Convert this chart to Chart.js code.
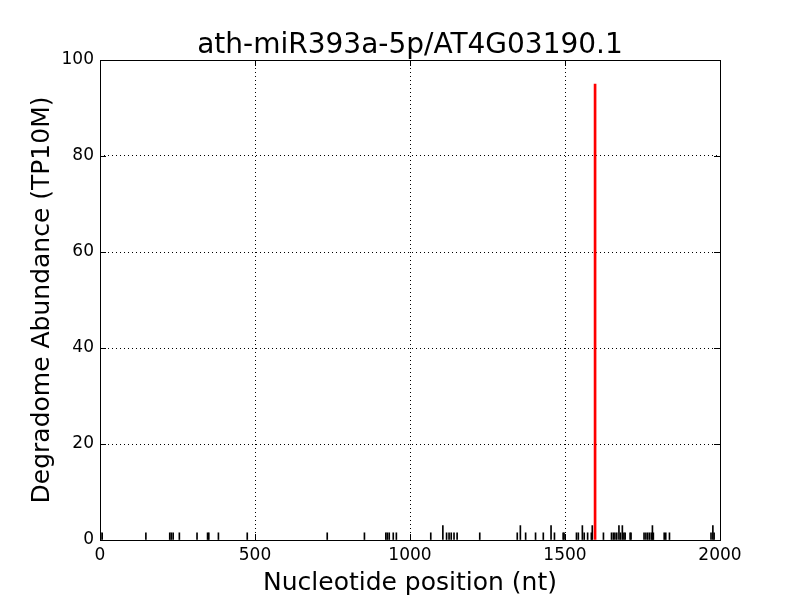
<!DOCTYPE html>
<html>
<head>
<meta charset="utf-8">
<script src="https://cdn.jsdelivr.net/npm/chart.js@4"></script>
<style>
  html, body { margin: 0; padding: 0; background: #fff; }
  #wrap { width: 800px; height: 600px; }
</style>
</head>
<body>
<div id="wrap"><canvas id="chartDegradome" width="800" height="600"></canvas></div>
<script>
const tituloGrafico = 'ath-miR393a-5p/AT4G03190.1';
const rotuloX = 'Nucleotide position (nt)';
const rotuloY = 'Degradome Abundance (TP10M)';

// degradome tags (black)
const posicoes = [2, 7, 148, 225, 230, 236, 256, 313, 347, 351, 382, 475, 733, 853, 922, 927, 933, 946, 956,
  1067, 1106, 1118, 1126, 1133, 1142, 1152, 1225, 1346, 1356, 1373, 1405, 1430, 1455, 1466, 1494, 1497,
  1537, 1543, 1556, 1562, 1573, 1585, 1588, 1624, 1650, 1656, 1661, 1667, 1674, 1679, 1685, 1690, 1694,
  1710, 1713, 1755, 1761, 1767, 1773, 1779, 1782, 1785, 1820, 1825, 1837, 1971, 1977, 1981];
const abundancias = [1.5, 1.5, 1.5, 1.5, 1.5, 1.5, 1.5, 1.5, 1.5, 1.5, 1.5, 1.5, 1.5, 1.5, 1.5, 1.5, 1.5, 1.5, 1.5,
  1.5, 3, 1.5, 1.5, 1.5, 1.5, 1.5, 1.5, 1.5, 3, 1.5, 1.5, 1.5, 3, 1.5, 1.5, 1.5,
  1.5, 1.5, 3, 1.5, 1.5, 1.5, 3, 1.5, 1.5, 1.5, 1.5, 1.5, 3, 1.5, 3, 1.5, 1.5,
  1.5, 1.5, 1.5, 1.5, 1.5, 1.5, 1.5, 3, 1.5, 1.5, 1.5, 1.5, 1.5, 3, 1.5];

// predicted cleavage site (red)
const posicaoCorte = [1597];
const abundanciaCorte = [95];

const ticksX = [0, 500, 1000, 1500, 2000];
const ticksY = [0, 20, 40, 60, 80, 100];

const fonte = 'DejaVu Sans';

const ticksInternos = {
  id: 'ticksInternos',
  afterDatasetsDraw(chart) {
    const { ctx, chartArea: a, scales: { x, y } } = chart;
    ctx.save();
    ctx.strokeStyle = '#000';
    ctx.lineWidth = 1;
    ctx.beginPath();
    x.ticks.forEach(t => {
      const px = Math.round(x.getPixelForValue(t.value)) + 0.5;
      ctx.moveTo(px, a.bottom); ctx.lineTo(px, a.bottom - 6);
      ctx.moveTo(px, a.top); ctx.lineTo(px, a.top + 6);
    });
    y.ticks.forEach(t => {
      const py = Math.round(y.getPixelForValue(t.value)) + 0.5;
      ctx.moveTo(a.left, py); ctx.lineTo(a.left + 6, py);
      ctx.moveTo(a.right, py); ctx.lineTo(a.right - 6, py);
    });
    ctx.stroke();
    ctx.strokeRect(Math.round(a.left) + 0.5, Math.round(a.top) + 0.5, Math.round(a.width), Math.round(a.height));
    ctx.restore();
  }
};

new Chart(document.getElementById('chartDegradome'), {
  type: 'bar',
  data: {
    datasets: [
      {
        data: posicoes.map((p, i) => ({ x: p, y: abundancias[i] })),
        backgroundColor: '#000',
        barThickness: 1,
        borderWidth: 0,
      },
      {
        data: posicaoCorte.map((p, i) => ({ x: p, y: abundanciaCorte[i] })),
        backgroundColor: '#ff0000',
        barThickness: 2,
        borderWidth: 0,
      }
    ]
  },
  options: {
    responsive: false,
    animation: false,
    grouped: false,
    layout: { padding: { left: 20, right: 0, top: 0, bottom: 0 } },
    plugins: {
      legend: { display: false },
      tooltip: { enabled: false },
      title: {
        display: true,
        text: tituloGrafico,
        color: '#000',
        font: { family: fonte, size: 28, weight: 'normal', lineHeight: 1 },
        padding: { top: 32, bottom: 0 }
      }
    },
    scales: {
      x: {
        type: 'linear',
        min: 0,
        max: 2000,
        offset: false,
        afterFit: s => { s.height = 60; },
        afterBuildTicks: s => { s.ticks = ticksX.map(v => ({ value: v })); },
        grid: { color: '#000', lineWidth: 1, drawTicks: false, offset: false },
        border: { display: false, dash: [1, 3] },
        ticks: { color: '#000', padding: 5, maxRotation: 0, font: { family: fonte, size: 17 }, callback: v => String(v) },
        title: {
          display: true,
          text: rotuloX,
          color: '#000',
          font: { family: fonte, size: 25, lineHeight: 1.2 },
          padding: { top: 0, bottom: 2 }
        }
      },
      y: {
        min: 0,
        max: 100,
        afterFit: s => { s.width = 80; },
        afterBuildTicks: s => { s.ticks = ticksY.map(v => ({ value: v })); },
        grid: { color: '#000', lineWidth: 1, drawTicks: false },
        border: { display: false, dash: [1, 3] },
        ticks: { color: '#000', padding: 6, font: { family: fonte, size: 17 }, callback: v => String(v) },
        title: {
          display: true,
          text: rotuloY,
          color: '#000',
          font: { family: fonte, size: 25, lineHeight: 1.2 },
          padding: { top: 7, bottom: 0 }
        }
      },
      margem: {
        type: 'linear',
        position: 'right',
        display: true,
        afterFit: s => { s.width = 80; },
        grid: { display: false },
        border: { display: false },
        ticks: { display: false }
      }
    }
  },
  plugins: [ticksInternos]
});
</script>
</body>
</html>
